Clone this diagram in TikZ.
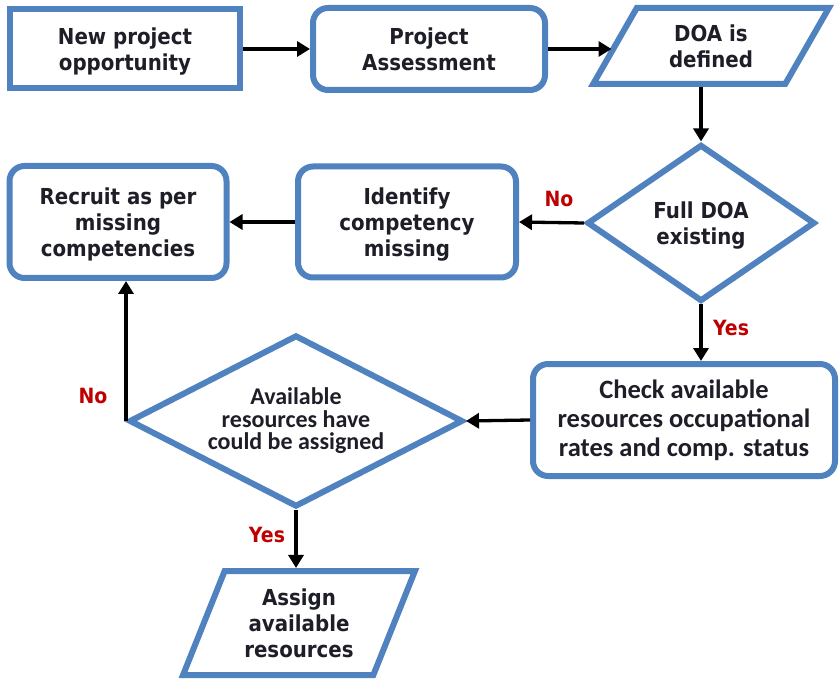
\documentclass[tikz,border=0pt]{standalone}
\usepackage{fontspec}
\setmainfont[FakeStretch=0.9]{DejaVu Sans}
\newfontfamily\calibrifont{Carlito}
\usetikzlibrary{shapes.geometric,arrows.meta}
\definecolor{flowblue}{RGB}{80,130,192}
\definecolor{flowink}{RGB}{30,30,40}
\definecolor{flowred}{RGB}{192,0,0}
\begin{document}
\begin{tikzpicture}[x=1pt,y=-1pt,
  shapebase/.style={draw=flowblue, line width=6pt, fill=white, inner sep=0pt,
    align=center, text=flowink},
  verdtext/.style={font=\fontsize{22}{26}\selectfont\bfseries, text depth=0pt},
  caltext/.style={font=\calibrifont\fontsize{26.5}{29}\selectfont\bfseries},
  sharpbox/.style={shapebase, verdtext, rectangle},
  roundbox/.style={shapebase, rectangle, rounded corners=15pt},
  iobox/.style={shapebase, verdtext, trapezium, trapezium stretches=true},
  decision/.style={shapebase, diamond},
  flow/.style={draw=black, line width=3.3pt, -{Triangle[length=13pt,width=15pt]}},
  answer/.style={text=flowred, font=\fontsize{21}{24}\selectfont\bfseries}
]
\useasboundingbox (0,0) rectangle (840,684);

% top row
\node[sharpbox, minimum width=230pt, minimum height=79pt] (opp) at (125,49)
  {New project\\opportunity};
\node[roundbox, verdtext, minimum width=232pt, minimum height=82pt] (assess) at (429,49)
  {Project\\Assessment};
\node[iobox, trapezium left angle=60, trapezium right angle=120,
  minimum width=236pt, minimum height=76pt] (doa) at (711,46)
  {DOA is\\defined};

% first decision and its "No" branch
\node[decision, aspect=1.45, verdtext, minimum width=228pt, minimum height=157pt] (full) at (701,223)
  {Full DOA\\existing};
\node[roundbox, verdtext, minimum width=218pt, minimum height=111pt] (ident) at (407,222)
  {Identify\\competency\\missing};
\node[roundbox, verdtext, minimum width=217pt, minimum height=112pt] (recruit) at (118,222)
  {Recruit as per\\missing\\competencies};

% resource check
\node[roundbox, caltext, minimum width=302pt, minimum height=112pt] (check) at (684,420)
  {Check available\\resources occupational\\rates and comp. status};
\node[decision, aspect=1.94, font=\calibrifont\fontsize{24}{22.5}\selectfont\bfseries,
  minimum width=334pt, minimum height=172pt] (avail) at (296,421)
  {Available\\resources have\\could be assigned};
\node[iobox, trapezium left angle=66, trapezium right angle=114,
  minimum width=232pt, minimum height=104pt] (assign) at (299,623)
  {Assign\\available\\resources};

% connectors
\draw[flow] (opp.east) -- (assess.west);
\draw[flow] (assess.east) -- (assess.east -| doa.west);
\draw[flow] (full.north |- doa.south) -- (full.north);
\draw[flow] (full.west) -- (ident.east);
\draw[flow] (ident.west) -- (recruit.east);
\draw[flow] (full.south) -- (full.south |- check.north);
\draw[flow] (check.west) -- (avail.east);
\draw[flow] (avail.west) -- (avail.west |- recruit.south);
\draw[flow] (avail.south) -- (avail.south |- assign.north);

% branch labels
\node[answer] (noA) at (559,199) {No};
\node[answer] (yesA) at (731,328) {Yes};
\node[answer] (noB) at (93,396) {No};
\node[answer] (yesB) at (267,535) {Yes};
\end{tikzpicture}
\end{document}
